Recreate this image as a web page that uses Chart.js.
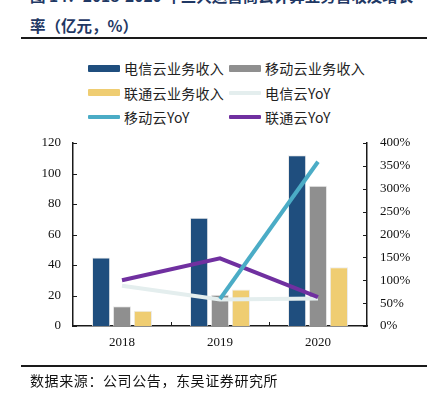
<!DOCTYPE html>
<html>
<head>
<meta charset="utf-8">
<script src="https://cdn.jsdelivr.net/npm/chart.js@4"></script>
<style>
  body { margin: 0; background: #fff; }
  #wrap { position: relative; width: 437px; height: 399px; overflow: hidden; font-family: "Noto Sans CJK SC", sans-serif; }
  #titulo { position: absolute; left: 30px; top: -20px; font-size: 15.5px; line-height: 30px; font-weight: bold; color: #1f3864; white-space: nowrap; letter-spacing: 0; }
  .regla { position: absolute; left: 21px; width: 406px; height: 2px; background: #1a1a1a; }
  #fuente { position: absolute; left: 30px; top: 370px; font-size: 14px; line-height: 20px; color: #111; letter-spacing: 0.6px; }
  #leyenda { position: absolute; left: 0; top: 0; }
  .item { position: absolute; display: flex; align-items: center; font-size: 14px; color: #222; white-space: nowrap; letter-spacing: 0.3px; }
  .muestra { width: 32px; margin-right: 4px; border-radius: 1px; }
  #caja { position: absolute; left: 0; top: 0; width: 437px; height: 399px; }
</style>
</head>
<body>
<div id="wrap">
  <div id="titulo">图 14：2018-2020 年三大运营商云计算业务营收及增长<br>率（亿元，%）</div>
  <div class="regla" style="top:37px"></div>
  <div id="leyenda"></div>
  <div id="caja"><canvas id="grafico"></canvas></div>
  <div class="regla" style="top:365px"></div>
  <div id="fuente">数据来源：公司公告，东吴证券研究所</div>
</div>
<script>
const anios = ['2018', '2019', '2020'];
const telecomIngresos = [45, 71, 112];
const movilIngresos = [13, 20.5, 92];
const unicomIngresos = [10, 24, 38.5];
const telecomYoY = [88, 58, 60];
const movilYoY = [null, 59, 359];
const unicomYoY = [100, 148, 63];
const ticksIzq = [0, 20, 40, 60, 80, 100, 120];
const ticksDer = [0, 50, 100, 150, 200, 250, 300, 350, 400];

const fuenteEjes = { family: 'Liberation Serif', size: 13 };

function barra(nombre, datos, color) {
  return {
    type: 'bar', label: nombre, data: datos, yAxisID: 'y',
    backgroundColor: color, borderColor: 'rgba(230,230,230,0.8)', borderWidth: 1,
    categoryPercentage: 0.64, barPercentage: 0.87, order: 10
  };
}

function linea(nombre, datos, color, orden) {
  return {
    type: 'line', label: nombre, data: datos, yAxisID: 'y1',
    borderColor: color, backgroundColor: color, borderWidth: 4,
    pointRadius: 0, tension: 0, spanGaps: false, order: orden
  };
}

const conjuntos = [
  barra('电信云业务收入', telecomIngresos, '#1f4e7e'),
  barra('移动云业务收入', movilIngresos, '#8f8f8f'),
  barra('联通云业务收入', unicomIngresos, '#efcd72'),
  linea('电信云YoY', telecomYoY, '#e4eeee', 3),
  linea('移动云YoY', movilYoY, '#4bacc6', 1),
  linea('联通云YoY', unicomYoY, '#7030a0', 2)
];

// leyenda en dos columnas, como en el original
const leyenda = document.getElementById('leyenda');
conjuntos.forEach((ds, i) => {
  const col = i % 2, fila = Math.floor(i / 2);
  const el = document.createElement('div');
  el.className = 'item';
  el.style.left = (col ? 229 : 88) + 'px';
  el.style.top = (58 + fila * 24.5) + 'px';
  el.style.height = '20px';
  const m = document.createElement('span');
  m.className = 'muestra';
  m.style.height = ds.type === 'bar' ? '7px' : '4px';
  m.style.background = ds.type === 'bar' ? ds.backgroundColor : ds.borderColor;
  el.appendChild(m);
  el.appendChild(document.createTextNode(ds.label));
  leyenda.appendChild(el);
});

// marcas de eje hacia dentro
const marcasInternas = {
  id: 'marcasInternas',
  afterDraw(chart) {
    const { ctx, scales: { x, y, y1 } } = chart;
    ctx.save();
    ctx.strokeStyle = '#1a1a1a';
    ctx.lineWidth = 1;
    ctx.beginPath();
    ticksIzq.forEach(v => {
      const py = Math.round(y.getPixelForValue(v)) + 0.5;
      ctx.moveTo(y.right, py); ctx.lineTo(y.right + 4, py);
    });
    ticksDer.forEach(v => {
      const py = Math.round(y1.getPixelForValue(v)) + 0.5;
      ctx.moveTo(y1.left, py); ctx.lineTo(y1.left - 4, py);
    });
    for (let i = 0; i < anios.length - 1; i++) {
      const px = Math.round((x.getPixelForValue(i) + x.getPixelForValue(i + 1)) / 2) + 0.5;
      ctx.moveTo(px, x.top); ctx.lineTo(px, x.top - 4);
    }
    ctx.stroke();
    ctx.restore();
  }
};

new Chart(document.getElementById('grafico'), {
  data: { labels: anios, datasets: conjuntos },
  options: {
    responsive: true,
    maintainAspectRatio: false,
    animation: false,
    layout: { padding: { top: 143, left: 0, right: 0, bottom: 0 } },
    plugins: { legend: { display: false }, tooltip: { enabled: false } },
    scales: {
      x: {
        grid: { display: false, drawTicks: false },
        border: { display: true, color: '#1a1a1a', width: 1.5 },
        ticks: { color: '#111', font: fuenteEjes, padding: 9 },
        afterFit: s => { s.height = 73; }
      },
      y: {
        position: 'left', min: 0, max: 120,
        grid: { display: false, drawTicks: false },
        border: { display: true, color: '#1a1a1a', width: 1.5 },
        ticks: { stepSize: 20, color: '#111', font: fuenteEjes, padding: 12 },
        afterFit: s => { s.width = 73; }
      },
      y1: {
        position: 'right', min: 0, max: 400,
        grid: { display: false, drawTicks: false },
        border: { display: true, color: '#1a1a1a', width: 1.5 },
        ticks: { stepSize: 50, color: '#111', font: fuenteEjes, padding: 13, callback: v => v + '%' },
        afterFit: s => { s.width = 70; }
      }
    }
  },
  plugins: [marcasInternas]
});
</script>
</body>
</html>
